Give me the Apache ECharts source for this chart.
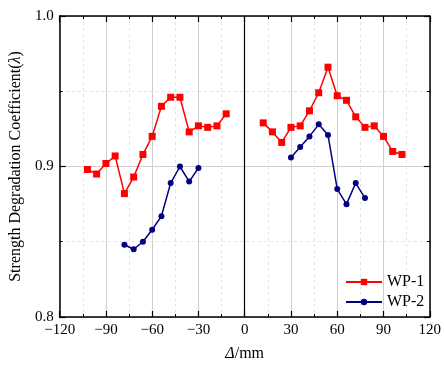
<!DOCTYPE html>
<html>
<head>
<meta charset="utf-8">
<script src="https://cdn.jsdelivr.net/npm/echarts@6/dist/echarts.min.js"></script>
<style>
  html, body { margin: 0; padding: 0; background: #fff; }
  #chart { width: 444px; height: 367px; }
</style>
</head>
<body>
<div id="chart"></div>
<script>
// Displacement (mm) and strength degradation coefficient for each specimen,
// split into the negative and positive loading branches.
const dispLeft1  = [-102, -96, -90, -84, -78, -72, -66, -60, -54, -48, -42, -36, -30, -24, -18, -12];
const wp1Left    = [0.898, 0.895, 0.902, 0.907, 0.882, 0.893, 0.908, 0.920, 0.940, 0.946, 0.946, 0.923, 0.927, 0.926, 0.927, 0.935];
const dispRight1 = [12, 18, 24, 30, 36, 42, 48, 54, 60, 66, 72, 78, 84, 90, 96, 102];
const wp1Right   = [0.929, 0.923, 0.916, 0.926, 0.927, 0.937, 0.949, 0.966, 0.947, 0.944, 0.933, 0.926, 0.927, 0.920, 0.910, 0.908];

const dispLeft2  = [-78, -72, -66, -60, -54, -48, -42, -36, -30];
const wp2Left    = [0.848, 0.845, 0.850, 0.858, 0.867, 0.889, 0.900, 0.890, 0.899];
const dispRight2 = [30, 36, 42, 48, 54, 60, 66, 72, 78];
const wp2Right   = [0.906, 0.913, 0.920, 0.928, 0.921, 0.885, 0.875, 0.889, 0.879];

const xTicks = [-120, -90, -60, -30, 0, 30, 60, 90, 120];
const yTicks = [0.8, 0.9, 1.0];

const FONT = 'Liberation Serif';
const RED = '#ff0000';
const NAVY = '#000080';

const pairs = (xs, ys) => xs.map((x, i) => [x, ys[i]]);

const axisLine = { show: true, onZero: false, lineStyle: { color: '#000', width: 1.5 } };
const majorTick = { show: true, inside: true, length: 6, lineStyle: { color: '#000', width: 1.2 } };
const minorTick = { show: true, splitNumber: 2, length: 3, lineStyle: { color: '#000', width: 1 } };

const chart = echarts.init(document.getElementById('chart'), null, { renderer: 'canvas' });

function lineSeries(name, data, color, symbol, size, extra) {
  return Object.assign({
    name: name,
    type: 'line',
    data: data,
    symbol: symbol,
    symbolSize: size,
    showSymbol: true,
    itemStyle: { color: color },
    lineStyle: { color: color, width: 1.5 },
    emphasis: { disabled: true },
    animation: false,
    z: 3
  }, extra || {});
}

chart.setOption({
  animation: false,
  textStyle: { fontFamily: FONT },
  grid: { left: 57, right: 9, top: 16, bottom: 46, containLabel: false },
  legend: {
    data: ['WP-1', 'WP-2'],
    orient: 'vertical',
    left: 340,
    top: 269,
    itemWidth: 36,
    itemHeight: 8,
    itemGap: 4,
    textStyle: { fontFamily: FONT, fontSize: 16, color: '#000' }
  },
  xAxis: [
    {
      type: 'value',
      min: -120, max: 120, interval: 30,
      position: 'bottom',
      axisLine: axisLine,
      axisTick: majorTick,
      minorTick: Object.assign({ inside: true }, minorTick),
      axisLabel: {
        fontFamily: FONT, fontSize: 15, color: '#000', margin: 6,
        formatter: v => (xTicks.includes(v) ? String(v).replace('-', '\u2212') : '')
      },
      splitLine: { show: true, lineStyle: { color: '#cfcfcf', width: 1 } },
      minorSplitLine: { show: true, lineStyle: { color: '#dedede', width: 0.8, type: [3, 3] } },
      name: '{i|\u0394}/mm',
      nameLocation: 'middle',
      nameGap: 29,
      nameTextStyle: {
        fontFamily: FONT, fontSize: 16, color: '#000',
        rich: { i: { fontFamily: FONT, fontSize: 16, fontStyle: 'italic', color: '#000' } }
      }
    },
    {
      type: 'value',
      min: -120, max: 120, interval: 30,
      position: 'top',
      axisLine: axisLine,
      axisTick: majorTick,
      minorTick: Object.assign({ inside: true }, minorTick),
      axisLabel: { show: false },
      splitLine: { show: false }
    }
  ],
  yAxis: [
    {
      type: 'value',
      min: 0.8, max: 1.0, interval: 0.1,
      position: 'left',
      axisLine: axisLine,
      axisTick: majorTick,
      minorTick: Object.assign({ inside: true }, minorTick),
      axisLabel: {
        fontFamily: FONT, fontSize: 15, color: '#000', margin: 6,
        formatter: v => yTicks.find(t => Math.abs(t - v) < 1e-6).toFixed(1)
      },
      splitLine: { show: true, lineStyle: { color: '#cfcfcf', width: 1 } },
      minorSplitLine: { show: true, lineStyle: { color: '#dedede', width: 0.8, type: [3, 3] } },
      name: 'Strength Degradation Coefficient({i|\u03bb})',
      nameLocation: 'middle',
      nameGap: 29,
      nameTextStyle: {
        fontFamily: FONT, fontSize: 16, color: '#000',
        rich: { i: { fontFamily: FONT, fontSize: 16, fontStyle: 'italic', color: '#000' } }
      }
    },
    {
      type: 'value',
      min: 0.8, max: 1.0, interval: 0.1,
      position: 'right',
      axisLine: axisLine,
      axisTick: majorTick,
      minorTick: Object.assign({ inside: true }, minorTick),
      axisLabel: { show: false },
      splitLine: { show: false }
    }
  ],
  series: [
    lineSeries('WP-1', pairs(dispLeft1, wp1Left), RED, 'rect', 7, {
      markLine: {
        silent: true,
        symbol: ['none', 'none'],
        label: { show: false },
        lineStyle: { color: '#000', type: 'solid', width: 1.2 },
        data: [{ xAxis: 0 }],
        animation: false
      }
    }),
    lineSeries('WP-1', pairs(dispRight1, wp1Right), RED, 'rect', 7),
    lineSeries('WP-2', pairs(dispLeft2, wp2Left), NAVY, 'circle', 6),
    lineSeries('WP-2', pairs(dispRight2, wp2Right), NAVY, 'circle', 6)
  ]
});
</script>
</body>
</html>
